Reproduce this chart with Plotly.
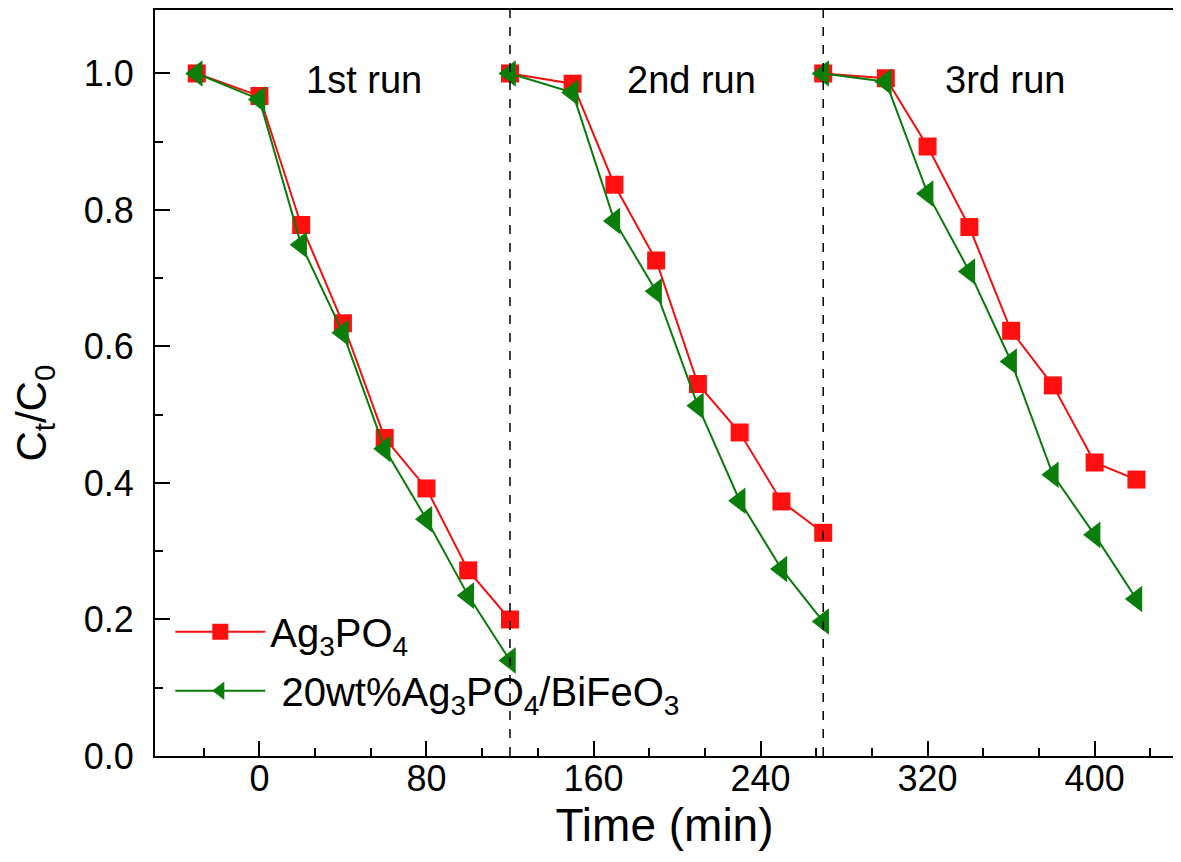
import plotly.graph_objects as go

# time axis (min); None breaks the line between runs
time = [-30, 0, 20, 40, 60, 80, 100, 120, None,
        120, 150, 170, 190, 210, 230, 250, 270, None,
        270, 300, 320, 340, 360, 380, 400, 420]

ag3po4 = [1.0, 0.967, 0.778, 0.634, 0.466, 0.392, 0.272, 0.200, None,
          1.0, 0.985, 0.837, 0.726, 0.545, 0.474, 0.373, 0.327, None,
          1.0, 0.993, 0.893, 0.775, 0.623, 0.543, 0.430, 0.405]

composite = [1.0, 0.962, 0.749, 0.620, 0.450, 0.347, 0.235, 0.140, None,
             1.0, 0.972, 0.784, 0.681, 0.513, 0.374, 0.274, 0.197, None,
             1.0, 0.988, 0.824, 0.710, 0.578, 0.412, 0.324, 0.230]

run_labels = ['1st run', '2nd run', '3rd run']
run_label_x = [50, 207, 357]
run_breaks = [120, 270]

FONT = 'Arial, Liberation Sans, sans-serif'

fig = go.Figure()
fig.add_trace(go.Scatter(
    x=time, y=ag3po4, mode='lines+markers', name='Ag<sub>3</sub>PO<sub>4</sub>',
    line=dict(color='#f01010', width=2),
    marker=dict(symbol='square', size=18, color='#ff1010'),
    legendgroup='a', connectgaps=False))
fig.add_trace(go.Scatter(
    x=time, y=composite, mode='lines+markers',
    name=' 20wt%Ag<sub>3</sub>PO<sub>4</sub>/BiFeO<sub>3</sub>',
    line=dict(color='#0a7a0a', width=2),
    marker=dict(symbol='triangle-left', size=23, color='#0a7d0a'),
    legendgroup='b', connectgaps=False))

for xb in run_breaks:
    fig.add_shape(type='line', x0=xb, x1=xb, y0=0, y1=1, xref='x', yref='paper',
                  line=dict(color='black', width=1.5, dash='dash'))

for lab, lx in zip(run_labels, run_label_x):
    fig.add_annotation(x=lx, y=0.99, text=lab, showarrow=False,
                       font=dict(size=38, color='black', family=FONT))

# y-axis title, sits a little below the plot centre as in the original
fig.add_annotation(x=-0.146, y=0.46, xref='paper', yref='paper', textangle=-90,
                   text='C<sub>t</sub>/C<sub>0</sub>', showarrow=False,
                   font=dict(size=42, color='black', family=FONT))

fig.update_layout(
    width=1181, height=862,
    margin=dict(l=147, r=15, t=0, b=114),
    plot_bgcolor='white', paper_bgcolor='white',
    font=dict(family=FONT, color='black'),
    showlegend=True,
    legend=dict(x=0.015, y=0.21, xanchor='left', yanchor='top',
                bgcolor='rgba(0,0,0,0)', font=dict(size=40, family=FONT),
                itemwidth=90, tracegroupgap=4),
)

fig.update_xaxes(
    range=[-50, 438], tickvals=[0, 80, 160, 240, 320, 400],
    ticks='inside', ticklen=15, tickwidth=2, tickcolor='black',
    minor=dict(tick0=0, dtick=80 / 3, ticks='inside', ticklen=8,
               tickwidth=2, tickcolor='black'),
    showline=True, linecolor='black', linewidth=2, mirror=True,
    showgrid=False, zeroline=False, ticklabelstandoff=-10,
    tickfont=dict(size=36), title=dict(text='Time (min)', font=dict(size=46), standoff=10))

fig.update_yaxes(
    range=[0, 1.093], tickvals=[0, 0.2, 0.4, 0.6, 0.8, 1.0], tickformat='.1f',
    ticks='inside', ticklen=15, tickwidth=2, tickcolor='black',
    minor=dict(tick0=0, dtick=0.1, ticks='inside', ticklen=8,
               tickwidth=2, tickcolor='black'),
    showline=True, linecolor='black', linewidth=2, mirror=True,
    showgrid=False, zeroline=False, ticklabelstandoff=12,
    tickfont=dict(size=36))

fig.write_html('out.html')
